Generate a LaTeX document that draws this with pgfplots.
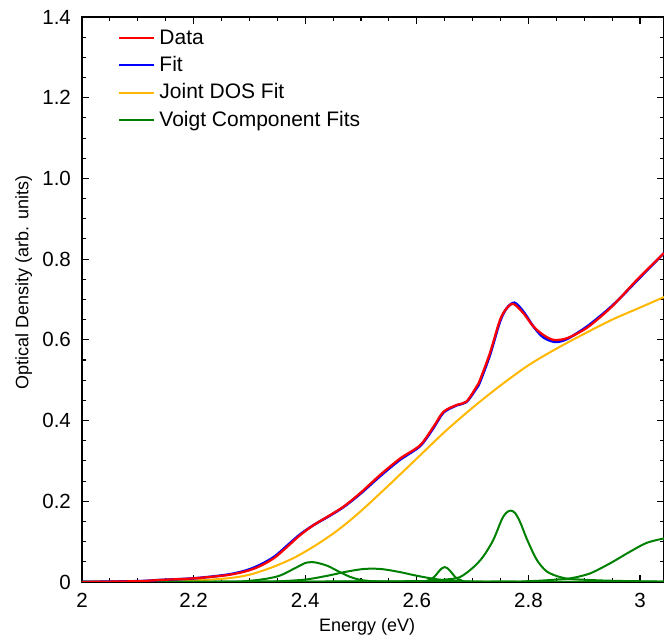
\documentclass[border=0pt]{standalone}
\usepackage{fontspec}
\setmainfont{Liberation Sans}
\usepackage{pgfplots}
\pgfplotsset{compat=1.18}
\definecolor{cData}{RGB}{255,0,0}
\definecolor{cFit}{RGB}{0,0,255}
\definecolor{cJDOS}{RGB}{255,183,0}
\definecolor{cVoigt}{RGB}{0,128,0}
\begin{document}
\fontsize{15.4pt}{18pt}\selectfont
\begin{tikzpicture}
\begin{axis}[
  name=ax,
  scale only axis,
  width=436.5pt, height=423.75pt,
  xmin=2, xmax=3.043, ymin=0, ymax=1.4,
  xtick={2,2.2,2.4,2.6,2.8,3},
  xticklabels={2,2.2,2.4,2.6,2.8,3},
  ytick={0,0.2,0.4,0.6,0.8,1.0,1.2,1.4},
  yticklabels={0,0.2,0.4,0.6,0.8,1.0,1.2,1.4},
  minor x tick num=3, minor y tick num=3,
  tick align=inside,
  major tick length=5.25pt, minor tick length=3pt,
  every tick/.style={black, line width=0.8pt},
  axis line style={black, line width=1pt},
  xticklabel style={yshift=-3pt},
  yticklabel style={xshift=-3pt},
  xlabel={Energy (eV)},
  ylabel={Optical Density (arb. units)},
  label style={font=\fontsize{13.5pt}{16pt}\selectfont},
  xlabel style={at={(axis description cs:0.49,-0.08)}, anchor=center},
  ylabel style={at={(axis description cs:-0.1,0.53)}, anchor=center, rotate=0},
  legend cell align=left,
  legend style={draw=none, fill=none, at={(0.055,0.99)}, anchor=north west,
    font=\fontsize{15.75pt}{18pt}\selectfont, row sep=0.8pt,
    nodes={inner sep=3pt}},
  legend image code/.code={\draw[#1] (0cm,0cm) -- (0.92cm,0cm);},
  every axis plot/.append style={smooth, tension=0.5},
]
\addlegendimage{cData, line width=1.7pt}
\addlegendentry{Data}
\addlegendimage{cFit, line width=1.7pt}
\addlegendentry{Fit}
\addlegendimage{cJDOS, line width=1.6pt}
\addlegendentry{Joint DOS Fit}
\addlegendimage{cVoigt, line width=1.6pt}
\addlegendentry{Voigt Component Fits}
% Joint DOS
\addplot[cJDOS, line width=1.5pt, forget plot] coordinates {
(2.00,0.000) (2.10,0.001) (2.20,0.004) (2.26,0.009) (2.30,0.018) (2.34,0.036)
(2.38,0.060) (2.42,0.092) (2.46,0.130) (2.50,0.176) (2.55,0.240) (2.60,0.306)
(2.65,0.372) (2.70,0.432) (2.75,0.487) (2.80,0.537) (2.85,0.578) (2.90,0.615)
(2.95,0.650) (3.00,0.680) (3.043,0.706)};
% Voigt 1
\addplot[cVoigt, line width=1.5pt, forget plot] coordinates {
(2.00,0.000) (2.25,0.000) (2.30,0.003) (2.33,0.008) (2.355,0.016) (2.38,0.033)
(2.40,0.047) (2.41,0.049) (2.42,0.048) (2.44,0.040) (2.46,0.026) (2.48,0.013)
(2.50,0.005) (2.53,0.001) (2.58,0.000) (3.043,0.000)};
% Voigt 2
\addplot[cVoigt, line width=1.5pt, forget plot] coordinates {
(2.00,0.000) (2.30,0.0005) (2.35,0.0015) (2.40,0.006) (2.44,0.0155) (2.47,0.0245)
(2.50,0.0315) (2.52,0.033) (2.54,0.0315) (2.57,0.0245) (2.60,0.0155) (2.64,0.006)
(2.69,0.0015) (2.74,0.0003) (2.80,0.000) (3.043,0.000)};
% Voigt 3
\addplot[cVoigt, line width=1.5pt, forget plot] coordinates {
(2.00,0.000) (2.60,0.001) (2.62,0.004) (2.63,0.011) (2.64,0.027) (2.645,0.034)
(2.65,0.037) (2.655,0.034) (2.66,0.027) (2.67,0.011) (2.68,0.004) (2.70,0.001)
(3.043,0.000)};
% Voigt 4
\addplot[cVoigt, line width=1.5pt, forget plot] coordinates {
(2.00,0.000) (2.60,0.002) (2.65,0.006) (2.677,0.012) (2.701,0.036) (2.719,0.063)
(2.737,0.104) (2.752,0.154) (2.760,0.171) (2.768,0.177) (2.776,0.171) (2.785,0.149)
(2.798,0.104) (2.815,0.055) (2.833,0.026) (2.857,0.012) (2.88,0.007) (2.95,0.003)
(3.043,0.001)};
% Voigt 5
\addplot[cVoigt, line width=1.5pt, forget plot] coordinates {
(2.00,0.000) (2.70,0.0005) (2.80,0.002) (2.85,0.006) (2.875,0.009) (2.91,0.021)
(2.946,0.046) (2.982,0.075) (3.012,0.097) (3.043,0.108)};
% Fit
\addplot[cFit, line width=1.9pt, forget plot] coordinates {
(2.00,0.000) (2.10,0.002) (2.14,0.005) (2.20,0.009) (2.26,0.018) (2.295,0.029)
(2.32,0.043) (2.345,0.063) (2.37,0.093) (2.39,0.117) (2.415,0.141) (2.445,0.165)
(2.47,0.187) (2.50,0.220) (2.534,0.262) (2.57,0.303) (2.606,0.337) (2.63,0.382)
(2.648,0.420) (2.672,0.438) (2.689,0.446) (2.707,0.480) (2.713,0.495) (2.731,0.562)
(2.749,0.645) (2.761,0.678) (2.775,0.692) (2.791,0.670) (2.809,0.633) (2.827,0.606)
(2.848,0.595) (2.869,0.602) (2.904,0.632) (2.940,0.672) (2.964,0.703) (2.994,0.746)
(3.043,0.815)};
% Data
\addplot[cData, line width=1.7pt, forget plot] coordinates {
(2.00,0.000) (2.10,0.002) (2.14,0.005) (2.20,0.009) (2.26,0.017) (2.295,0.027)
(2.32,0.040) (2.345,0.060) (2.37,0.090) (2.39,0.115) (2.415,0.141) (2.445,0.166)
(2.47,0.188) (2.50,0.222) (2.534,0.265) (2.57,0.306) (2.606,0.339) (2.63,0.385)
(2.648,0.422) (2.672,0.439) (2.689,0.447) (2.707,0.484) (2.713,0.500) (2.731,0.567)
(2.749,0.649) (2.761,0.678) (2.773,0.689) (2.791,0.666) (2.809,0.633) (2.827,0.612)
(2.845,0.600) (2.869,0.604) (2.904,0.629) (2.940,0.670) (2.964,0.703) (2.994,0.748)
(3.043,0.815)};
\end{axis}
\pgfresetboundingbox
\path[use as bounding box] ([xshift=-61.5pt,yshift=-46.5pt]ax.south west) rectangle ([yshift=12.75pt]ax.north east);
\end{tikzpicture}
\end{document}
